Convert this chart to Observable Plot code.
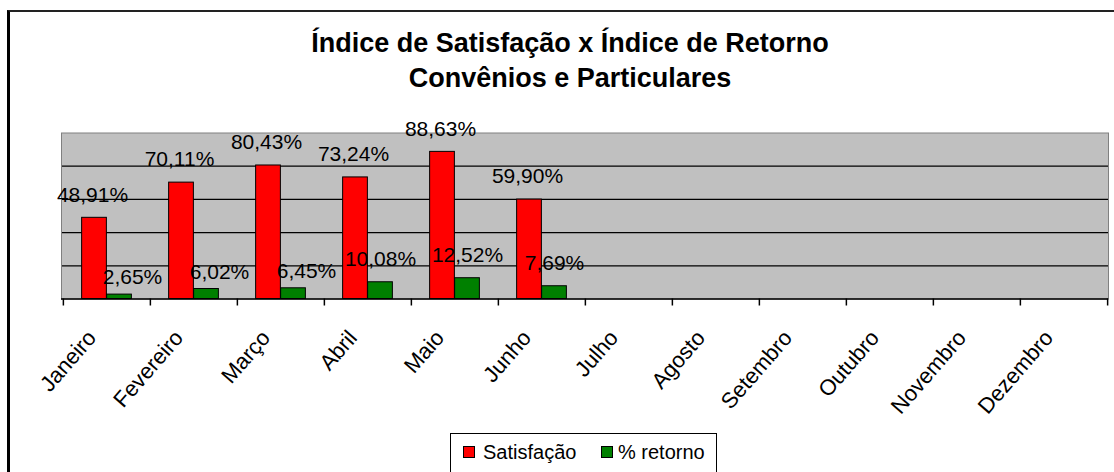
<!DOCTYPE html>
<html>
<head>
<meta charset="utf-8">
<script src="https://cdn.jsdelivr.net/npm/d3@7"></script>
<script src="https://cdn.jsdelivr.net/npm/@observablehq/plot@0.6"></script>
<style>
  html, body { margin: 0; padding: 0; background: #fff; overflow: hidden; }
  #wrap { position: relative; width: 1114px; height: 472px; overflow: hidden; font-family: "Liberation Sans", Arial, sans-serif; }
  #chart { position: absolute; left: 0; top: 0; }
  #title { position: absolute; left: 270px; top: 26px; width: 600px; text-align: center; font-weight: bold; font-size: 27px; line-height: 35px; color: #000; }
  #legend { position: absolute; left: 450px; top: 433px; width: 265px; height: 40px; border: 1px solid #000; background: #fff; font-size: 20px; color: #000; }
  .sw { position: absolute; top: 12px; width: 10px; height: 10px; border: 1px solid #000; }
  .lt { position: absolute; top: 8px; line-height: 20px; white-space: nowrap; }
  #frame { position: absolute; left: 7px; top: 10px; width: 1300px; height: 700px; border-left: 3px solid #000; border-top: 2px solid #222; }
</style>
</head>
<body>
<div id="wrap">
  <div id="chart"></div>
  <div id="title"></div>
  <div id="legend"></div>
  <div id="frame"></div>
</div>
<script>
const titleLines = ["Índice de Satisfação x Índice de Retorno", "Convênios e Particulares"];
const months = ["Janeiro", "Fevereiro", "Março", "Abril", "Maio", "Junho", "Julho", "Agosto", "Setembro", "Outubro", "Novembro", "Dezembro"];
const satisfacao = [48.91, 70.11, 80.43, 73.24, 88.63, 59.90];
const retorno = [2.65, 6.02, 6.45, 10.08, 12.52, 7.69];
const gridTicks = [20, 40, 60, 80];
const seriesNames = ["Satisfação", "% retorno"];
const seriesColors = ["#FF0000", "#008000"];

const rows = satisfacao.map((v, i) => ({month: months[i], sat: v, ret: retorno[i], i}));
const fmt = v => v.toFixed(2).replace(".", ",") + "%";

const W = 1114, H = 472, ML = 61, MR = 6, MT = 132.5, MB = H - 298.5;
const bw = (W - ML - MR) / months.length;
const barW = 25;
const plotH = H - MT - MB;

const chart = Plot.plot({
  width: W,
  height: H,
  marginLeft: ML,
  marginRight: MR,
  marginTop: MT,
  marginBottom: MB,
  style: {background: "transparent", fontFamily: "'Liberation Sans', Arial, sans-serif", overflow: "visible", color: "#000"},
  x: {type: "band", domain: months, padding: 0, axis: null},
  y: {domain: [0, 100], axis: null},
  marks: [
    Plot.frame({fill: "#C0C0C0", stroke: null}),
    Plot.ruleY(gridTicks, {stroke: "#000", strokeWidth: 1.2}),
    Plot.frame({stroke: "#808080", strokeWidth: 1}),
    Plot.barY(rows, {x: "month", y: "sat", fill: seriesColors[0], stroke: "#000", strokeWidth: 1, insetLeft: bw / 2 - barW, insetRight: bw / 2}),
    Plot.barY(rows, {x: "month", y: "ret", fill: seriesColors[1], stroke: "#000", strokeWidth: 1, insetLeft: bw / 2, insetRight: bw / 2 - barW}),
    Plot.ruleY([0], {stroke: "#000", strokeWidth: 1.5}),
    Plot.ruleX(months, {x: d => d, dx: -bw / 2, stroke: "#000", strokeWidth: 1.5, insetTop: plotH, insetBottom: -7}),
    Plot.ruleX([months[months.length - 1]], {x: d => d, dx: bw / 2, stroke: "#000", strokeWidth: 1.5, insetTop: plotH, insetBottom: -7}),
    Plot.text(rows, {x: "month", y: "sat", text: d => fmt(d.sat), dx: -barW / 2 - 2, dy: -23, fontSize: 21, fill: "#000"}),
    Plot.text(rows.filter(d => d.i < 3), {x: "month", y: "ret", text: d => fmt(d.ret), dx: barW / 2 + 13, dy: -17, fontSize: 21, fill: "#000"}),
    Plot.text(rows.filter(d => d.i >= 3), {x: "month", y: "ret", text: d => fmt(d.ret), dx: barW / 2, dy: -23, fontSize: 21, fill: "#000"}),
    Plot.text(months, {x: d => d, y: 0, text: d => d, rotate: -49, textAnchor: "end", dx: -15, dy: 35, fontSize: 22, fill: "#000"})
  ]
});
document.getElementById("chart").appendChild(chart);

document.getElementById("title").innerHTML = titleLines.map(t => `<div>${t}</div>`).join("");

const legend = document.getElementById("legend");
const legendPos = [{sw: 12, tx: 32}, {sw: 150, tx: 167}];
seriesNames.forEach((name, k) => {
  const sw = document.createElement("div");
  sw.className = "sw";
  sw.style.left = legendPos[k].sw + "px";
  sw.style.background = seriesColors[k];
  legend.appendChild(sw);
  const t = document.createElement("div");
  t.className = "lt";
  t.style.left = legendPos[k].tx + "px";
  t.textContent = name;
  legend.appendChild(t);
});
</script>
</body>
</html>
